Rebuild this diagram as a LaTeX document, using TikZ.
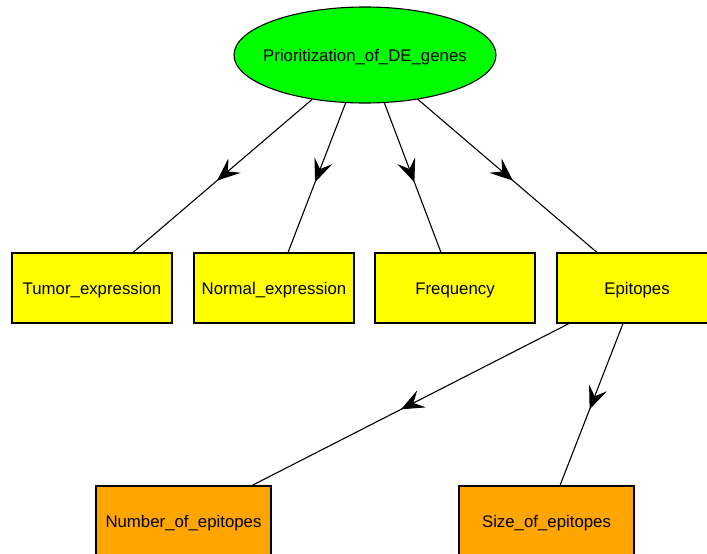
\documentclass[tikz,border=0pt]{standalone}
\usepackage{fontspec}
\setmainfont{Liberation Sans}
\usetikzlibrary{shapes.geometric,arrows.meta,decorations.markings}
\begin{document}
\begin{tikzpicture}[x=1pt,y=-1pt,
  lbl/.style={font=\fontsize{16.8}{19}\selectfont,text height=16pt,text depth=3.5pt},
  box/.style={draw=black,line width=1.1pt,minimum width=160pt,minimum height=70pt,inner sep=0pt,lbl},
  yel/.style={box,fill={rgb,255:red,255;green,255;blue,0}},
  org/.style={box,fill={rgb,255:red,255;green,165;blue,0},minimum width=175pt},
  edge/.style={line width=1.1pt,postaction={decorate},decoration={markings,mark=at position 0.53 with {\arrow{Stealth[length=23pt,width=19pt,inset=9pt]}}}}]
\useasboundingbox (0,0) rectangle (707,554);
\node[ellipse,draw=black,line width=1.1pt,fill={rgb,255:red,0;green,255;blue,0},minimum width=262pt,minimum height=96pt,inner sep=0pt,lbl] (P) at (365,55) {\makebox[0pt]{Prioritization\_of\_DE\_genes}};
\node[yel] (T) at (92,288) {Tumor\_expression};
\node[yel] (N) at (274,288) {Normal\_expression};
\node[yel] (F) at (455,288) {Frequency};
\node[yel] (E) at (637,288) {Epitopes};
\node[org] (NE) at (183.5,521) {Number\_of\_epitopes};
\node[org] (SE) at (546.5,521) {Size\_of\_epitopes};
\draw[edge] (P.220.5) -- ([xshift=41pt]T.north);
\draw[edge] (P.248) -- ([xshift=14pt]N.north);
\draw[edge] (P.292) -- ([xshift=-14pt]F.north);
\draw[edge] (P.320) -- ([xshift=-40pt]E.north);
\draw[edge] ([xshift=-68pt]E.south) -- ([xshift=68.5pt]NE.north);
\draw[edge] ([xshift=-14pt]E.south) -- ([xshift=13.5pt]SE.north);
\end{tikzpicture}
\end{document}
